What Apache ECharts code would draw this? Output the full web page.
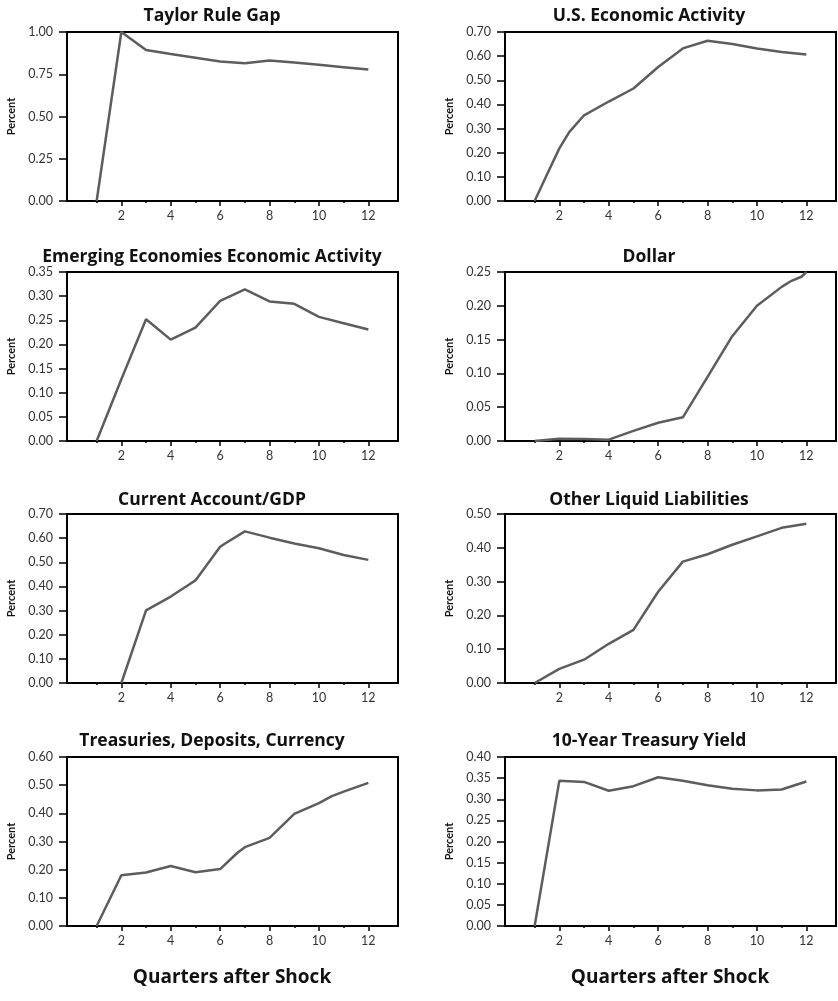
<!DOCTYPE html>
<html><head><meta charset="utf-8">
<script src="https://cdn.jsdelivr.net/npm/echarts@6/dist/echarts.min.js"></script>
<style>html,body{margin:0;padding:0;background:#fff}#c{width:838px;height:1001px}</style>
</head><body><div id="c"></div>
<script>
// Panel titles
const titles = ["Taylor Rule Gap","U.S. Economic Activity","Emerging Economies Economic Activity","Dollar","Current Account/GDP","Other Liquid Liabilities","Treasuries, Deposits, Currency","10-Year Treasury Yield"];
// y-axis ranges [max, interval]
const yMax = [1.00, 0.70, 0.35, 0.25, 0.70, 0.50, 0.60, 0.40];
const yStep = [0.25, 0.10, 0.05, 0.05, 0.10, 0.10, 0.10, 0.05];
// x tick labels (quarters)
const xLabels = [2,4,6,8,10,12];
const xMinor = [1,3,5,7,9,11];
// series: [quarter, percent]
const taylorRuleGap = [[1,0],[2,1.00],[3,0.894],[4,0.870],[5,0.848],[6,0.825],[7,0.815],[8,0.832],[9,0.820],[10,0.806],[11,0.792],[12,0.778]];
const usActivity = [[1,0],[1.5,0.11],[2,0.218],[2.4,0.285],[3,0.355],[4,0.412],[5,0.466],[6,0.555],[7,0.632],[8,0.664],[9,0.650],[10,0.632],[11,0.617],[12,0.607]];
const emergingActivity = [[1,0],[2,0.128],[3,0.252],[4,0.210],[5,0.235],[6,0.290],[7,0.314],[8,0.289],[9,0.284],[10,0.257],[11,0.244],[12,0.231]];
const dollar = [[1,0],[2,0.0035],[3,0.003],[4,0.002],[5,0.015],[6,0.027],[7,0.035],[8,0.095],[9,0.155],[10,0.200],[11,0.228],[11.4,0.237],[11.8,0.243],[12,0.250]];
const currentAccount = [[2,0],[3,0.301],[4,0.358],[4.7,0.405],[5,0.425],[6,0.564],[6.2,0.578],[7,0.628],[8,0.602],[9,0.578],[10,0.558],[11,0.530],[12,0.510]];
const otherLiquid = [[1,0],[2,0.042],[3,0.069],[4,0.116],[5,0.157],[6,0.270],[7,0.359],[8,0.381],[9,0.409],[10,0.434],[11,0.459],[12,0.471]];
const treasuries = [[1,0],[2,0.180],[3,0.190],[4,0.213],[5,0.191],[6,0.202],[6.7,0.260],[7,0.280],[8,0.313],[9,0.398],[10,0.436],[10.5,0.460],[11,0.477],[12,0.508]];
const tenYear = [[1,0],[2,0.344],[3,0.341],[4,0.320],[5,0.331],[6,0.352],[7,0.344],[8,0.333],[9,0.325],[10,0.321],[11,0.323],[12,0.342]];
const seriesData = [taylorRuleGap, usActivity, emergingActivity, dollar, currentAccount, otherLiquid, treasuries, tenYear];
const xTitle = "Quarters after Shock";
const yTitle = "Percent";

const chart = echarts.init(document.getElementById('c'), null, {renderer:'canvas'});
const lefts = [67, 505];
const tops = [32, 272, 514, 757];
const W = 331, H = 169;
const FONT = 'Lato';
const TFONT = '"Open Sans"';
const grids=[], xAxes=[], yAxes=[], series=[], graphics=[];
for (let i=0;i<8;i++){
  const col=i%2, row=Math.floor(i/2);
  grids.push({left:lefts[col], top:tops[row], width:W, height:H, show:true, borderColor:'#000', borderWidth:2, backgroundColor:'transparent'});
  const baseX = {type:'value', gridIndex:i, min:-0.2, max:13.2, position:'bottom', splitLine:{show:false},
    axisLine:{show:true, onZero:false, lineStyle:{color:'#000', width:2}}};
  xAxes.push(Object.assign({}, baseX, {
    axisTick:{show:true, inside:false, length:5, lineStyle:{color:'#000', width:1.5}, customValues:xLabels},
    axisLabel:{show:true, customValues:xLabels, color:'#333', fontFamily:FONT, fontSize:12.5, margin:8}
  }));
  xAxes.push(Object.assign({}, baseX, {
    axisLine:{show:false},
    axisTick:{show:true, inside:false, length:2, lineStyle:{color:'#000', width:1.5}, customValues:xMinor},
    axisLabel:{show:false}
  }));
  yAxes.push({type:'value', gridIndex:i, min:0, max:yMax[i], interval:yStep[i], splitLine:{show:false},
    axisLine:{show:true, onZero:false, lineStyle:{color:'#000', width:2}},
    axisTick:{show:true, length:8, lineStyle:{color:'#000', width:1.5}},
    axisLabel:{color:'#333', fontFamily:FONT, fontSize:12.5, margin:14, formatter:v=>v.toFixed(2)},
    name:yTitle, nameLocation:'middle', nameGap:50, nameRotate:90,
    nameTextStyle:{fontFamily:FONT, fontWeight:'bold', fontSize:11, color:'#111'}});
  series.push({type:'line', xAxisIndex:2*i, yAxisIndex:i, data:seriesData[i], symbol:'none', smooth:false,
    lineStyle:{color:'#5d5d5d', width:2.5}, clip:false});
  graphics.push({type:'text', style:{text:titles[i], x:0, y:0,
    font:'bold 17.5px '+TFONT, fill:'#111', textAlign:'center', textVerticalAlign:'middle'},
    position:[col===0?212:649, [16,257,500,741][row]]});
}
graphics.push({type:'text', position:[232,978], style:{text:xTitle, font:'bold 19px '+TFONT, fill:'#111', textAlign:'center', textVerticalAlign:'middle'}});
graphics.push({type:'text', position:[670,978], style:{text:xTitle, font:'bold 19px '+TFONT, fill:'#111', textAlign:'center', textVerticalAlign:'middle'}});

chart.setOption({animation:false, grid:grids, xAxis:xAxes, yAxis:yAxes, series:series, graphic:graphics});
</script></body></html>
